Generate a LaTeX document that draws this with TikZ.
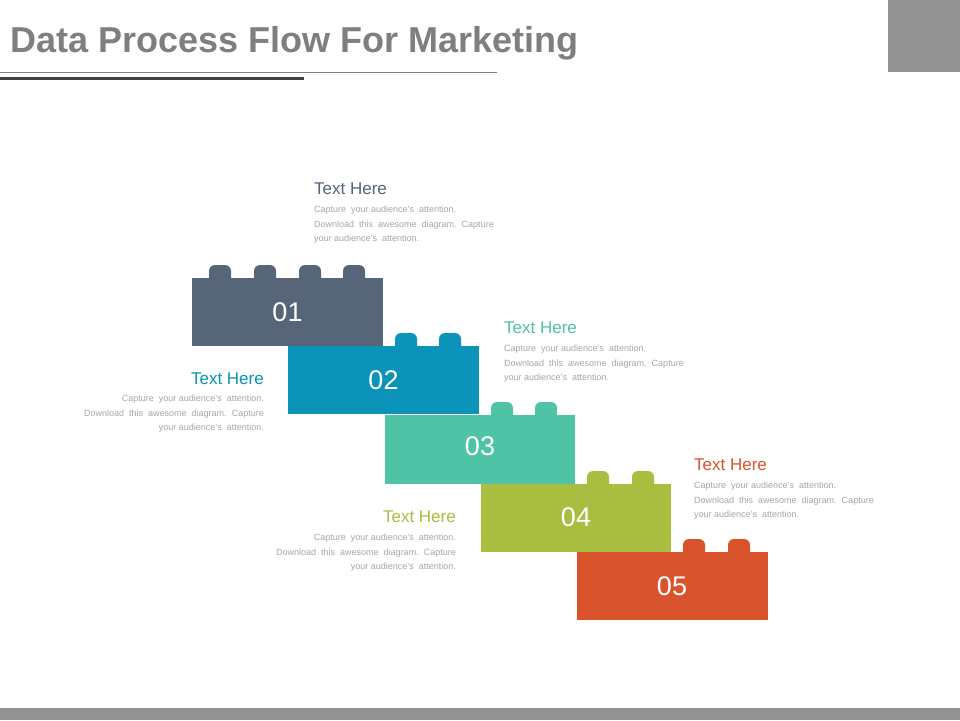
\documentclass[tikz,border=0pt]{standalone}
\usepackage{fontspec}
\setmainfont{Liberation Sans}
\definecolor{cA}{HTML}{566577}
\definecolor{cB}{HTML}{0B93B9}
\definecolor{cC}{HTML}{4FC3A6}
\definecolor{cD}{HTML}{A9BD40}
\definecolor{cE}{HTML}{D9542C}
\definecolor{bodyg}{HTML}{A6A6A6}
\definecolor{titleg}{HTML}{7F7F7F}
\tikzset{
 numtxt/.style={text=white, font=\fontsize{27}{30}\selectfont},
 head/.style={font=\fontsize{17}{20}\selectfont, inner sep=0pt},
 body/.style={font=\fontsize{9}{14.5}\selectfont, text=bodyg, inner sep=0pt},
}
\newcommand{\studat}[3]{\fill[#3] (#1-11,#2+2) -- (#1-11,#2-6) [rounded corners=6pt] -- (#1-11,#2-13) -- (#1+11,#2-13) [sharp corners] -- (#1+11,#2-6) -- (#1+11,#2+2) -- cycle;}
\begin{document}
\begin{tikzpicture}[x=1pt,y=-1pt]
\useasboundingbox (0,0) rectangle (960,720);
\fill[white] (0,0) rectangle (960,720);
\fill[gray!85] (888,0) rectangle (960,72);
\fill[gray!85] (0,708) rectangle (960,720);
\node[anchor=base west, inner sep=0pt, text=titleg, font=\bfseries\fontsize{36}{40}\selectfont] (title) at (10,52) {Data Process Flow For Marketing};
\draw[gray, line width=1pt] (0,72) -- (497,72);
\draw[black!75, line width=3pt] (0,78) -- (304,78);
% studs
\foreach \x in {220,265,310,354} {\studat{\x}{278}{cA}}
\foreach \x in {406,450} {\studat{\x}{346}{cB}}
\foreach \x in {502,546} {\studat{\x}{415}{cC}}
\foreach \x in {598,643} {\studat{\x}{484}{cD}}
\foreach \x in {694,739} {\studat{\x}{552}{cE}}
% blocks
\fill[cA] (192,278) rectangle (383,346);
\node[numtxt] (n1) at (287.5,312) {01};
\fill[cB] (288,346) rectangle (479,414);
\node[numtxt] (n2) at (383.5,380) {02};
\fill[cC] (385,415) rectangle (575,484);
\node[numtxt] (n3) at (480,446) {03};
\fill[cD] (481,484) rectangle (671,552);
\node[numtxt] (n4) at (576,517) {04};
\fill[cE] (577,552) rectangle (768,620);
\node[numtxt] (n5) at (672,586) {05};
% texts
\node[head, text=cA, anchor=base west] (h1) at (314,194) {Text Here};
\node[body, anchor=north west, align=left] (b1) at (314,206) {Capture\ \ your audience's\ \ attention.\\Download\ \ this\ \ awesome\ \ diagram.\ \ Capture\\your audience's\ \ attention.};
\node[head, text=cB, anchor=base east] (h2) at (264,384) {Text Here};
\node[body, anchor=north east, align=right] (b2) at (264,395) {Capture\ \ your audience's\ \ attention.\\Download\ \ this\ \ awesome\ \ diagram.\ \ Capture\\your audience's\ \ attention.};
\node[head, text=cC, anchor=base west] (h3) at (504,333) {Text Here};
\node[body, anchor=north west, align=left] (b3) at (504,345) {Capture\ \ your audience's\ \ attention.\\Download\ \ this\ \ awesome\ \ diagram.\ \ Capture\\your audience's\ \ attention.};
\node[head, text=cD, anchor=base east] (h4) at (456,522) {Text Here};
\node[body, anchor=north east, align=right] (b4) at (456,534) {Capture\ \ your audience's\ \ attention.\\Download\ \ this\ \ awesome\ \ diagram.\ \ Capture\\your audience's\ \ attention.};
\node[head, text=cE, anchor=base west] (h5) at (694,470) {Text Here};
\node[body, anchor=north west, align=left] (b5) at (694,482) {Capture\ \ your audience's\ \ attention.\\Download\ \ this\ \ awesome\ \ diagram.\ \ Capture\\your audience's\ \ attention.};
\end{tikzpicture}
\end{document}
